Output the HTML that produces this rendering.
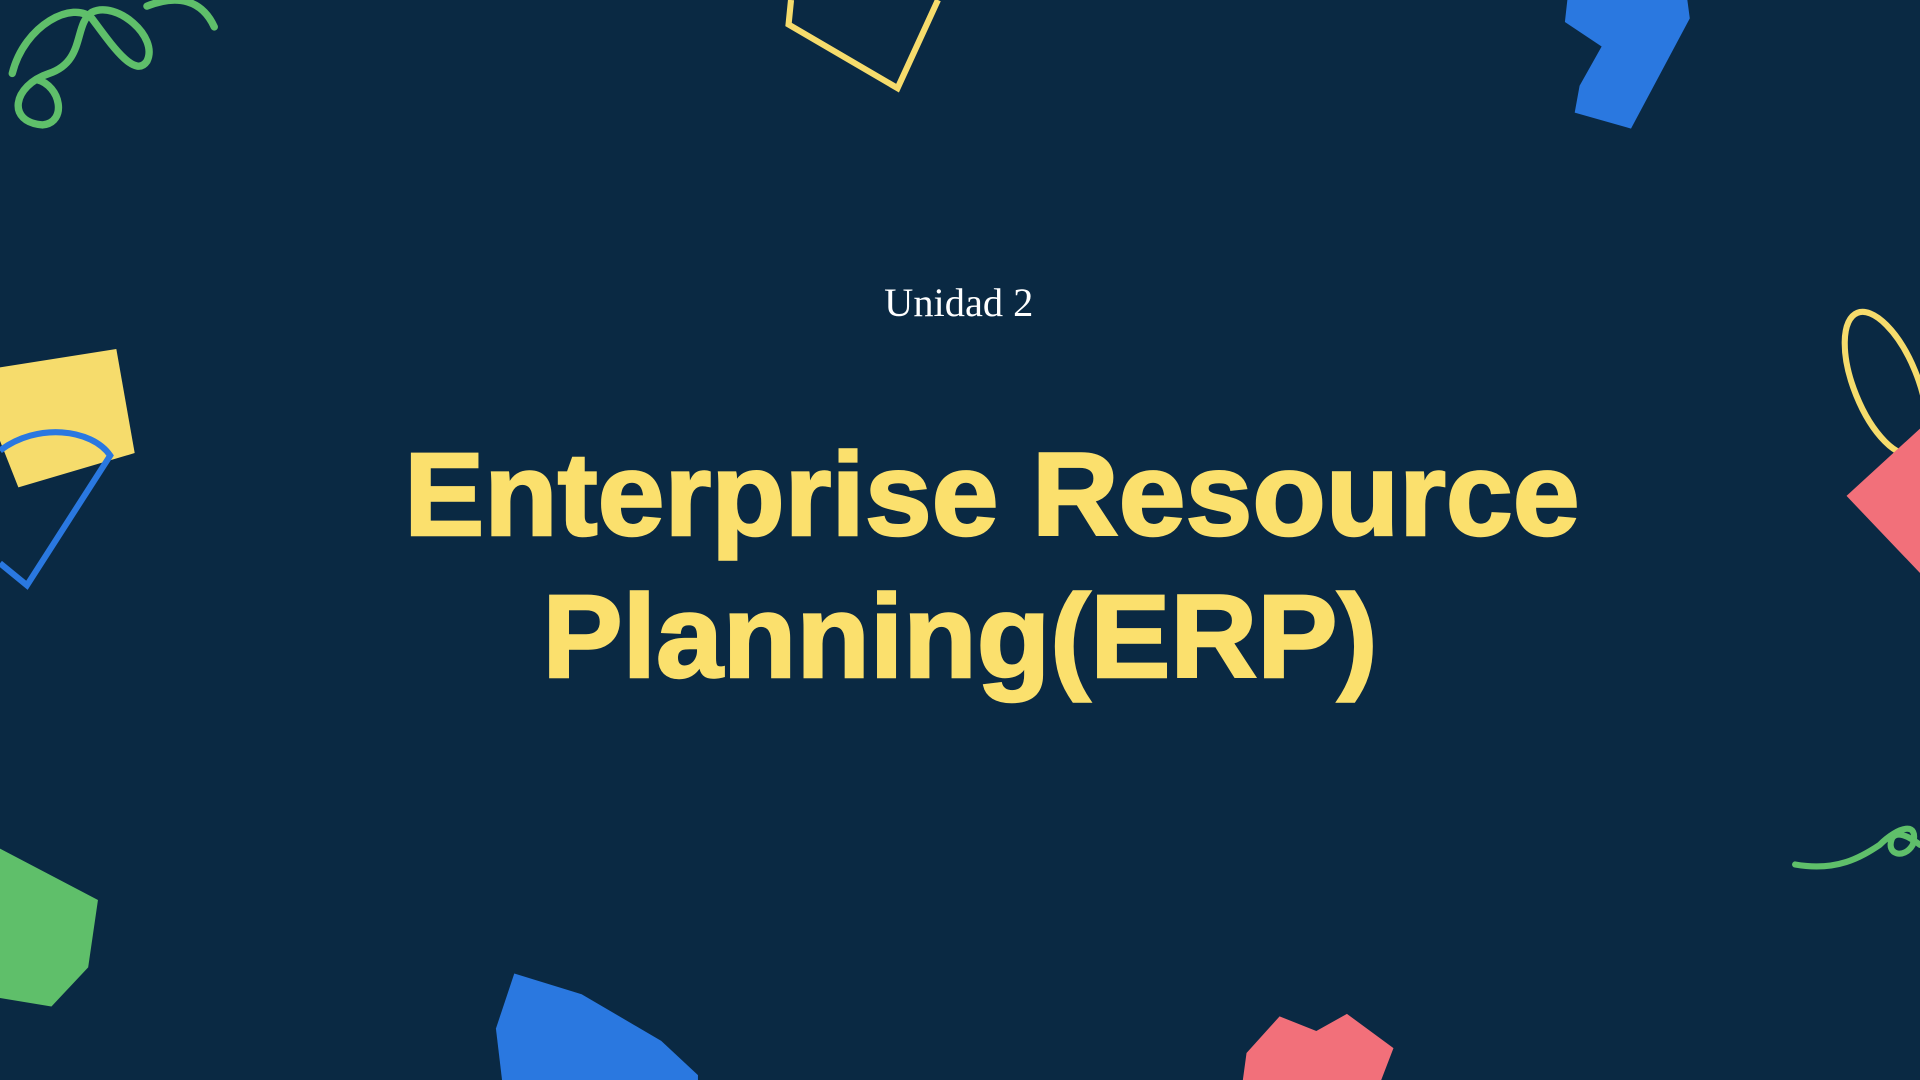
<!DOCTYPE html>
<html><head><meta charset="utf-8"><style>
html,body{margin:0;padding:0;background:#0a2943;width:1920px;height:1080px;overflow:hidden}
svg{display:block}
</style></head><body>
<svg width="1920" height="1080" viewBox="0 0 1568 882" xmlns="http://www.w3.org/2000/svg">
<rect width="1568" height="882" fill="#0a2943"/>
<path d="M10,60 C20,20 60,0 75,15 C90,35 110,65 120,50 C130,30 95,0 75,10 C60,20 70,50 40,60 C10,70 5,100 35,102 C55,100 50,70 30,65 M120,5 C145,-5 165,0 175,22" fill="none" stroke="#5fbf6a" stroke-width="6" stroke-linecap="round"/>
<path d="M646,0 L644,20 L733,72 L766,0" fill="none" stroke="#f6dc6c" stroke-width="5"/>
<polygon points="1280,0 1378,0 1380,15 1332,105 1286,92 1290,70 1308,38 1278,18" fill="#2a78e0"/>
<ellipse cx="1540" cy="313" rx="26" ry="62" transform="rotate(-22 1540 313)" fill="none" stroke="#f6dc6c" stroke-width="5"/>
<polygon points="1508,405 1568,350 1568,468" fill="#f2707a"/>
<path d="M1466,706 C1500,712 1520,700 1535,690 C1550,675 1568,670 1562,690 C1555,702 1540,698 1545,685 C1550,675 1568,690 1568,690" fill="none" stroke="#5fbf6a" stroke-width="5" stroke-linecap="round"/>
<polygon points="0,300 95,285 110,370 15,398 0,360" fill="#f6dc6c"/>
<path d="M0,368 C30,345 75,350 90,372 L22,478 L0,460" fill="none" stroke="#2a78e0" stroke-width="5"/>
<polygon points="0,693 80,735 72,790 42,822 0,815" fill="#5fbf6a"/>
<polygon points="420,795 475,812 540,850 570,878 570,882 410,882 405,840" fill="#2a78e0"/>
<polygon points="1018,860 1045,830 1075,842 1100,828 1138,856 1128,882 1015,882" fill="#f2707a"/>
<text x="783" y="258" text-anchor="middle" font-family="Liberation Serif, serif" font-size="33" fill="#ffffff">Unidad 2</text>
<text x="810" y="437" text-anchor="middle" font-family="Liberation Sans, sans-serif" font-weight="bold" font-size="96" fill="#fbe06d" stroke="#fbe06d" stroke-width="2" textLength="960" lengthAdjust="spacingAndGlyphs">Enterprise Resource</text>
<text x="784" y="553" text-anchor="middle" font-family="Liberation Sans, sans-serif" font-weight="bold" font-size="96" fill="#fbe06d" stroke="#fbe06d" stroke-width="2" textLength="682" lengthAdjust="spacingAndGlyphs">Planning(ERP)</text>
</svg>
</body></html>
